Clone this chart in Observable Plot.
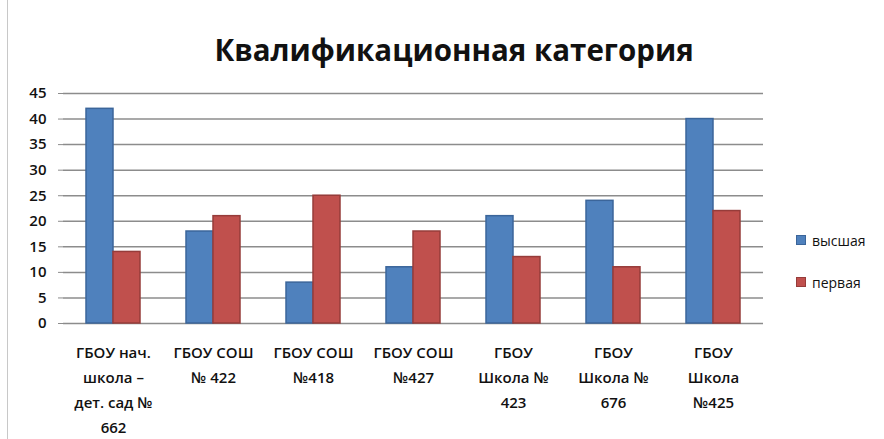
<!DOCTYPE html>
<html>
<head>
<meta charset="utf-8">
<script src="https://cdn.jsdelivr.net/npm/d3@7"></script>
<script src="https://cdn.jsdelivr.net/npm/@observablehq/plot@0.6"></script>
<style>
  body { margin: 0; background: #fff; }
  #wrap { position: relative; width: 884px; height: 439px; overflow: hidden; font-family: "Open Sans", sans-serif; }
  #edge { position: absolute; left: 7px; top: 0; width: 1px; height: 439px; background: #c8c8c8; }
  #title { position: absolute; left: 0; top: 0; width: 884px; height: 80px; padding-left: 24px; box-sizing: border-box;
           text-align: center; font-weight: 700; font-size: 29.5px; line-height: 100px; color: #111; }
  #chart { position: absolute; left: 0; top: 80px; }
  #legend { position: absolute; left: 796px; top: 230px; font-size: 14px; color: #111; }
  .item { display: flex; align-items: center; height: 20px; margin-bottom: 22px; }
  .sw { width: 10px; height: 10px; margin-right: 6px; box-sizing: border-box; }
</style>
</head>
<body>
<div id="wrap">
  <div id="edge"></div>
  <div id="title">Квалификационная категория</div>
  <div id="chart"></div>
  <div id="legend"></div>
</div>
<script>
const categories = [
  "ГБОУ нач.\nшкола –\nдет. сад №\n662",
  "ГБОУ СОШ\n№ 422",
  "ГБОУ СОШ\n№418",
  "ГБОУ СОШ\n№427",
  "ГБОУ\nШкола №\n423",
  "ГБОУ\nШкола №\n676",
  "ГБОУ\nШкола\n№425"
];
const seriesNames = ["высшая", "первая"];
const vysshaya = [42, 18, 8, 11, 21, 24, 40];
const pervaya = [14, 21, 25, 18, 13, 11, 22];
const yTicks = [0, 5, 10, 15, 20, 25, 30, 35, 40, 45];
const fills = ["#4F81BD", "#C0504D"];
const strokes = ["#3B659A", "#963C3A"];

const data = categories.flatMap((c, i) => [
  {cat: c, series: seriesNames[0], value: vysshaya[i]},
  {cat: c, series: seriesNames[1], value: pervaya[i]}
]);

const chart = Plot.plot({
  width: 884,
  height: 359,
  marginLeft: 61,
  marginRight: 119,
  marginTop: 13,
  marginBottom: 116,
  style: {fontFamily: "Open Sans, sans-serif", fontSize: "14px", color: "#111", background: "transparent"},
  fx: {domain: categories, padding: 0, label: null},
  x: {domain: seriesNames, paddingInner: 0, paddingOuter: 0.8, axis: null},
  y: {domain: [0, 45], label: null},
  marks: [
    Plot.gridY(yTicks, {stroke: "#8c8c8c", strokeOpacity: 1, strokeWidth: 1.5}),
    Plot.axisY(yTicks, {tickSize: 5, tickPadding: 12, fontSize: 15, fontWeight: 600, stroke: "#8c8c8c", line: true, label: null}),
    Plot.axisFx({anchor: "bottom", tickSize: 0, tickPadding: 17, fontSize: 15, lineHeight: 1.66, fontWeight: 600, label: null}),
    ...seriesNames.map((s, k) => Plot.barY(data.filter(d => d.series === s), {
      fx: "cat", x: "series", y: "value", fill: fills[k], stroke: strokes[k], strokeWidth: 1.5
    }))
  ]
});
document.getElementById("chart").appendChild(chart);

const legend = document.getElementById("legend");
seriesNames.forEach((s, k) => {
  const item = document.createElement("div");
  item.className = "item";
  const sw = document.createElement("span");
  sw.className = "sw";
  sw.style.background = fills[k];
  sw.style.border = "1px solid " + strokes[k];
  const t = document.createElement("span");
  t.textContent = s;
  item.appendChild(sw);
  item.appendChild(t);
  legend.appendChild(item);
});
</script>
</body>
</html>
